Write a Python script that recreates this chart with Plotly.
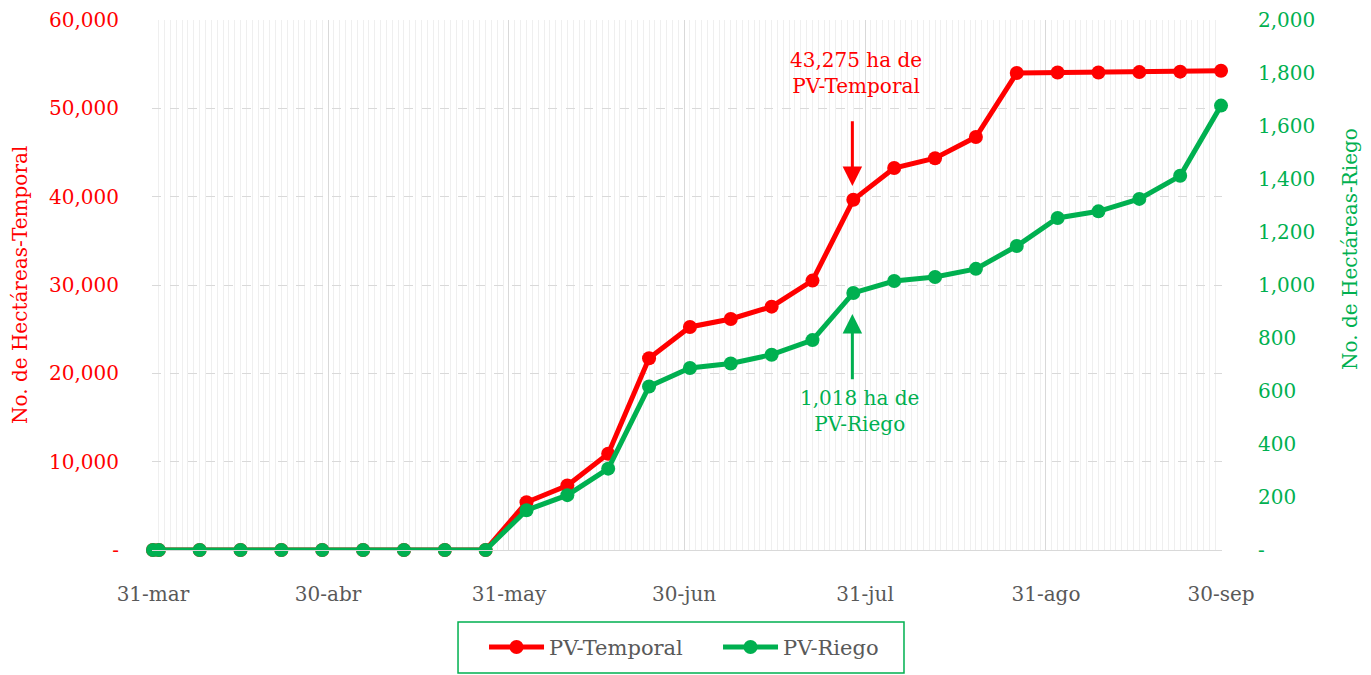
import plotly.graph_objects as go

dates = ["2020-03-31", "2020-04-01", "2020-04-08", "2020-04-15", "2020-04-22", "2020-04-29",
         "2020-05-06", "2020-05-13", "2020-05-20", "2020-05-27", "2020-06-03", "2020-06-10",
         "2020-06-17", "2020-06-24", "2020-07-01", "2020-07-08", "2020-07-15", "2020-07-22",
         "2020-07-29", "2020-08-05", "2020-08-12", "2020-08-19", "2020-08-26", "2020-09-02",
         "2020-09-09", "2020-09-16", "2020-09-23", "2020-09-30"]
temporal = [0, 0, 0, 0, 0, 0, 0, 0, 0, 0, 5400, 7300, 10900, 21700, 25250, 26150, 27550, 30500,
            39650, 43250, 44350, 46750, 54000, 54050, 54050, 54100, 54150, 54250]
riego = [0, 0, 0, 0, 0, 0, 0, 0, 0, 0, 150, 207, 307, 617, 687, 704, 737, 792,
         970, 1015, 1030, 1061, 1147, 1253, 1278, 1325, 1412, 1677]

x_tickvals = ["2020-03-31", "2020-04-30", "2020-05-31", "2020-06-30", "2020-07-31", "2020-08-31", "2020-09-30"]
x_ticktext = ["31-mar", "30-abr", "31-may", "30-jun", "31-jul", "31-ago", "30-sep"]
y1_vals = [0, 10000, 20000, 30000, 40000, 50000, 60000]
y1_text = ["-", "10,000", "20,000", "30,000", "40,000", "50,000", "60,000"]
y2_vals = [0, 200, 400, 600, 800, 1000, 1200, 1400, 1600, 1800, 2000]
y2_text = ["-", "200", "400", "600", "800", "1,000", "1,200", "1,400", "1,600", "1,800", "2,000"]

RED = "#ff0000"
GREEN = "#00b050"
GREY = "#595959"
FONT = "DejaVu Serif"
FS = 20

fig = go.Figure()
fig.add_trace(go.Scatter(x=dates, y=temporal, name="PV-Temporal", mode="lines+markers",
                         line=dict(color=RED, width=5), marker=dict(size=14, color=RED),
                         cliponaxis=False))
fig.add_trace(go.Scatter(x=dates, y=riego, name="PV-Riego", mode="lines+markers", yaxis="y2",
                         line=dict(color=GREEN, width=5), marker=dict(size=14, color=GREEN),
                         cliponaxis=False))

# plot area height = 675 - 12 - 133 = 530
fig.update_layout(
    width=1371, height=675,
    margin=dict(l=144, r=157, t=12, b=133, autoexpand=False),
    paper_bgcolor="white", plot_bgcolor="white",
    font=dict(family=FONT, size=FS, color=GREY),
    showlegend=True,
    legend=dict(orientation="h", x=0.3103, xanchor="left", y=-0.145, yanchor="top",
                borderwidth=0, bgcolor="rgba(0,0,0,0)",
                font=dict(family=FONT, size=21, color=GREY), itemwidth=55,
                entrywidth=164),
    xaxis=dict(type="date", range=["2020-03-30 20:00", "2020-09-30 04:00"],
               tickmode="array", tickvals=x_tickvals, ticktext=x_ticktext,
               showgrid=True, gridcolor="#d9d9d9", gridwidth=1,
               showline=True, linecolor="#d9d9d9", linewidth=1,
               ticks="", ticklabelstandoff=26, automargin=False,
               ticklabeloverflow="allow",
               tickfont=dict(family=FONT, size=FS, color=GREY),
               minor=dict(dtick=86400000, tick0="2020-03-31", showgrid=True, gridcolor="#efefef", gridwidth=1),
               zeroline=False),
    yaxis=dict(range=[0, 60000], tickmode="array", tickvals=y1_vals, ticktext=y1_text,
               showgrid=True, gridcolor="#d9d9d9", griddash="dash", gridwidth=1,
               zeroline=False, ticks="", ticklabelstandoff=32, automargin=False,
               ticklabeloverflow="allow",
               tickfont=dict(family=FONT, size=FS, color=RED)),
    yaxis2=dict(range=[0, 2000], overlaying="y", side="right", tickmode="array",
                tickvals=y2_vals, ticktext=y2_text, showgrid=False, zeroline=False,
                ticks="", ticklabelstandoff=35, automargin=False,
                ticklabeloverflow="allow",
                tickfont=dict(family=FONT, size=FS, color=GREEN)),
    shapes=[dict(type="rect", xref="paper", yref="paper", x0=0.286, x1=0.7028,
                 y0=-0.2321, y1=-0.1358, line=dict(color=GREEN, width=1.5),
                 fillcolor="rgba(0,0,0,0)", layer="below")],
)

annotations = [
    dict(text="No. de Hectáreas-Temporal", xref="paper", yref="paper", x=0, y=0.5,
         xshift=-132, textangle=-90, showarrow=False, xanchor="center", yanchor="middle",
         font=dict(family=FONT, size=FS, color=RED)),
    dict(text="No. de Hectáreas-Riego", xref="paper", yref="paper", x=1, y=0.568,
         xshift=128, textangle=-90, showarrow=False, xanchor="center", yanchor="middle",
         font=dict(family=FONT, size=FS, color=GREEN)),
    dict(text="43,275 ha de<br>PV-Temporal", xref="x", yref="y", x="2020-07-29 12:00", y=54000,
         showarrow=False, xanchor="center", yanchor="middle",
         font=dict(family=FONT, size=FS, color=RED)),
    dict(text="1,018 ha de<br>PV-Riego", xref="x", yref="y2", x="2020-07-30", y=526,
         showarrow=False, xanchor="center", yanchor="middle",
         font=dict(family=FONT, size=FS, color=GREEN)),
    dict(text="", xref="x", yref="y", x="2020-07-28 20:00", y=41200,
         axref="x", ayref="y", ax="2020-07-28 20:00", ay=48700,
         showarrow=True, arrowhead=2, arrowsize=1.3, arrowwidth=3, arrowcolor=RED),
    dict(text="", xref="x", yref="y2", x="2020-07-28 20:00", y=891,
         axref="x", ayref="y2", ax="2020-07-28 20:00", ay=639,
         showarrow=True, arrowhead=2, arrowsize=1.3, arrowwidth=3, arrowcolor=GREEN),
]
fig.update_layout(annotations=annotations)

fig.write_html("out.html")
